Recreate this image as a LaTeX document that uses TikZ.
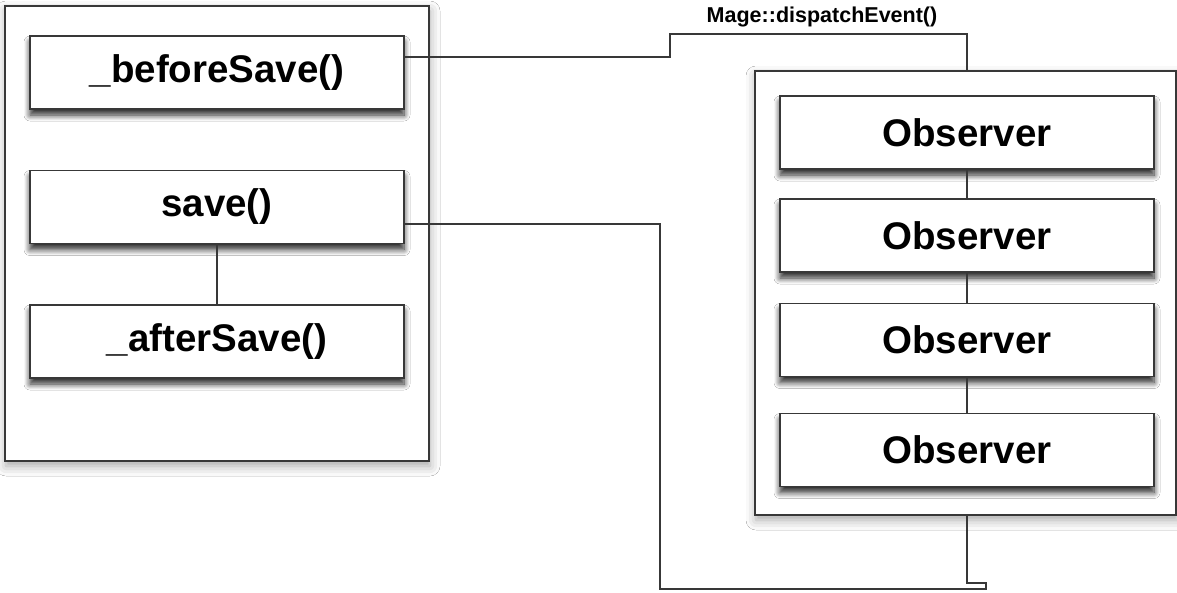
\documentclass[tikz,border=0pt]{standalone}
\usepackage{fontspec}
\setmainfont{Liberation Sans}
\usetikzlibrary{shadows.blur}
\begin{document}
\begin{tikzpicture}[x=1pt,y=-1pt,
  linecol/.style={draw=black!78, line width=1.3pt},
  group/.style={linecol, fill=white, inner sep=0pt, outer sep=0pt,
    minimum width=#1, blur shadow={shadow xshift=1pt, shadow yshift=-5pt, shadow blur radius=10pt, shadow opacity=35}},
  method/.style={linecol, fill=white, inner sep=0pt, outer sep=0pt,
    minimum width=374pt, minimum height=73pt,
    font=\fontsize{38.5}{40}\selectfont\bfseries,
    blur shadow={shadow xshift=0pt, shadow yshift=-6pt, shadow blur radius=6pt, shadow blur steps=8, shadow opacity=85}},
  conn/.style={linecol},
  lab/.style={font=\fontsize{21.5}{23}\selectfont\bfseries, inner sep=0pt}
]
\useasboundingbox (0,0) rectangle (1177,592);
\fill[white] (0,0) rectangle (1177,592);

% groups
\node[group=424pt, minimum height=455pt] (leftgrp) at (217,233.5) {};
\node[group=421pt, minimum height=444pt] (rightgrp) at (965.5,293) {};

% left methods
\node[method] (before) at (217,72.5) {\_beforeSave()};
\node[method] (save) at (217,207) {save()};
\node[method] (after) at (217,341.5) {\_afterSave()};

% observers
\node[method] (obs1) at (967,132.5) {Observer};
\node[method] (obs2) at (967,235.5) {Observer};
\node[method] (obs3) at (967,340) {Observer};
\node[method] (obs4) at (967,450) {Observer};

% label
\node[lab] (evt) at (822,17) {Mage::dispatchEvent()};

% internal connectors
\draw[conn] (save.south) -- (after.north);
\draw[conn] (obs1.south) -- (obs2.north);
\draw[conn] (obs2.south) -- (obs3.north);
\draw[conn] (obs3.south) -- (obs4.north);

% waypoints
\coordinate (a1) at (670,57);
\coordinate (a2) at (670,34);
\coordinate (a3) at (967,34);
\coordinate (b1) at (660,224);
\coordinate (b2) at (660,589);
\coordinate (b3) at (986,589);
\coordinate (b4) at (986,583);
\coordinate (b5) at (967,583);

\draw[conn, line join=miter] ([yshift=15.5pt]before.east) -- (a1) -- (a2) -- (a3) -- (rightgrp.north -| obs1.north);
\draw[conn, line join=miter] ([yshift=-17pt]save.east) -- (b1) -- (b2) -- (b3) -- (b4) -- (b5) -- (rightgrp.south -| obs4.south);
\end{tikzpicture}
\end{document}
